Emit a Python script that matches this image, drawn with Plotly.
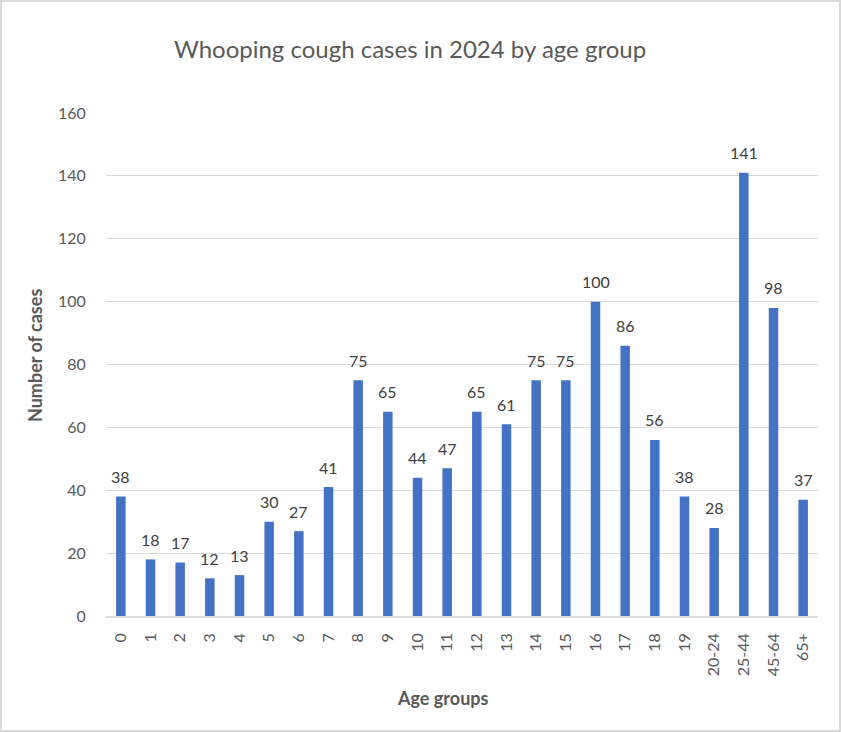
import plotly.graph_objects as go

categories = ["0", "1", "2", "3", "4", "5", "6", "7", "8", "9", "10", "11", "12", "13",
              "14", "15", "16", "17", "18", "19", "20-24", "25-44", "45-64", "65+"]
cases = [38, 18, 17, 12, 13, 30, 27, 41, 75, 65, 44, 47, 65, 61,
         75, 75, 100, 86, 56, 38, 28, 141, 98, 37]
y_ticks = [0, 20, 40, 60, 80, 100, 120, 140, 160]

W, H = 841, 732
L, R, T, B = 106, 23, 113, 116
pw, ph = W - L - R, H - T - B
FONT = "Lato, Open Sans, sans-serif"

fig = go.Figure(go.Bar(
    x=categories, y=cases,
    marker=dict(color="#4472c4", line=dict(width=0)),
))

annotations = [dict(x=c, y=v, xref="x", yref="y", text=str(v), showarrow=False,
                    yanchor="middle", yshift=20,
                    font=dict(size=16, color="#404040", family=FONT))
               for c, v in zip(categories, cases)]
annotations.append(dict(text="<b>Age groups</b>", xref="paper", yref="paper",
                        x=(443 - L) / pw, y=-(698 - (H - B)) / ph, xanchor="center", yanchor="middle",
                        showarrow=False, font=dict(size=18, color="#595959", family=FONT)))
annotations.append(dict(text="<b>Number of cases</b>", xref="paper", yref="paper",
                        x=(35 - L) / pw, y=((H - B) - 356) / ph, xanchor="center", yanchor="middle",
                        textangle=-90, showarrow=False,
                        font=dict(size=18, color="#595959", family=FONT)))

fig.update_layout(
    width=W, height=H,
    margin=dict(l=L, r=R, t=T, b=B, autoexpand=False),
    paper_bgcolor="white", plot_bgcolor="white",
    bargap=0.68,
    showlegend=False,
    title=dict(text="Whooping cough cases in 2024 by age group",
               x=410 / W, xanchor="center", y=1 - 50 / H, yanchor="middle",
               font=dict(size=24, color="#595959", family=FONT)),
    xaxis=dict(
        type="category", tickangle=-90,
        tickfont=dict(size=16, color="#595959", family=FONT),
        showline=True, linecolor="#d9d9d9", linewidth=1.5,
        ticks="outside", ticklen=9, tickcolor="rgba(0,0,0,0)",
        showgrid=False,
    ),
    yaxis=dict(
        range=[0, 160], tickvals=y_ticks,
        tickfont=dict(size=16, color="#595959", family=FONT),
        showgrid=True, gridcolor="#d9d9d9", gridwidth=1,
        zeroline=False, showline=False,
        ticks="outside", ticklen=16, tickcolor="rgba(0,0,0,0)",
    ),
    annotations=annotations,
    shapes=[dict(type="rect", xref="paper", yref="paper",
                 x0=(1 - L) / pw, x1=(W - 1 - L) / pw,
                 y0=-(H - 1 - (H - B)) / ph, y1=(H - B - 1) / ph,
                 line=dict(color="#d9d9d9", width=2), fillcolor="rgba(0,0,0,0)", layer="below")],
)

fig.write_html("out.html")
